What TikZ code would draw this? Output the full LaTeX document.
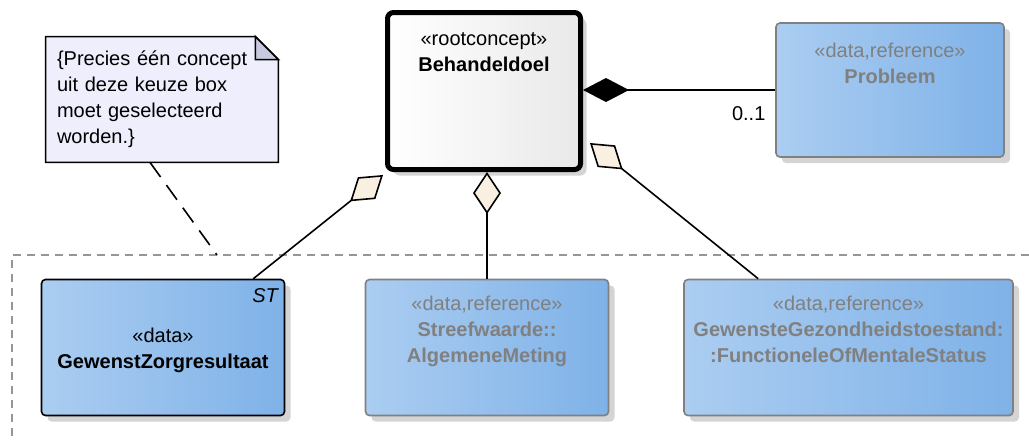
\documentclass[tikz,border=0pt]{standalone}
\usepackage{fontspec}
\setmainfont{Liberation Sans}
\usetikzlibrary{arrows.meta,shadows}

\definecolor{boxleft}{RGB}{171,205,241}
\definecolor{boxright}{RGB}{127,178,232}
\definecolor{rootright}{RGB}{233,233,233}
\definecolor{noteback}{RGB}{238,238,252}
\definecolor{notefold}{RGB}{200,200,222}
\definecolor{aggfill}{RGB}{250,240,225}
\definecolor{reftext}{RGB}{128,128,128}
\definecolor{pkggray}{RGB}{150,150,150}

\newcommand{\diafont}{\fontsize{10}{13}\selectfont}

\begin{document}
\begin{tikzpicture}[x=0.5pt, y=-0.5pt, font=\diafont,
    boxshadow/.style={drop shadow={shadow xshift=3pt, shadow yshift=-3pt, fill=black!17, opacity=1}},
    databox/.style={rectangle, rounded corners=2pt, line width=0.8pt,
        left color=boxleft, right color=boxright, boxshadow, inner sep=0pt},
    refbox/.style={databox, draw=reftext},
    localbox/.style={databox, draw=black},
    rootbox/.style={rectangle, rounded corners=3pt, draw=black, line width=2.5pt,
        left color=white, right color=rootright, boxshadow, inner sep=0pt},
    boxtext/.style={anchor=north, align=center, inner sep=0pt},
    reftxt/.style={boxtext, text=reftext},
    agg/.style={line width=0.8pt, -{Diamond[length=21pt, width=14pt, fill=aggfill]}},
    comp/.style={line width=0.8pt, -{Diamond[length=23pt, width=12pt]}},
    notelink/.style={line width=0.8pt, dash pattern=on 9pt off 5pt},
    pkgedge/.style={draw=pkggray, line width=0.8pt, dash pattern=on 4pt off 3pt}]
    \useasboundingbox (0,0) rectangle (1029,441);

    % package frame
    \coordinate (pkgcorner) at (12,255);
    \coordinate (notefoot) at (217,255);
    \draw[pkgedge] (1029,255) -- (pkgcorner) -- (12,441);

    % root concept
    \node[rootbox, minimum width=96.5pt, minimum height=78.5pt] (doel) at (484,91) {};
    \node[boxtext] (doeltxt) at ([yshift=-11pt]doel.north)
        {«rootconcept»\\\textbf{Behandeldoel}};

    \node[refbox, minimum width=114pt, minimum height=67pt] (prob) at (890,90) {};
    \node[reftxt] (probtxt) at ([yshift=-10pt]prob.north)
        {«data,reference»\\\textbf{Probleem}};

    % choice box
    \node[localbox, minimum width=121.5pt, minimum height=68pt] (gz) at (163,347.5) {};
    \node[boxtext] (gztxt) at ([yshift=-24.5pt]gz.north)
        {«data»\\\textbf{GewenstZorgresultaat}};
    \node[anchor=north east, inner sep=0pt, font=\diafont\itshape] (gzst)
        at ([xshift=-3.5pt, yshift=-4.5pt]gz.north east) {ST};

    \node[refbox, minimum width=121.5pt, minimum height=68pt] (streef) at (487,347.5) {};
    \node[reftxt] (streeftxt) at ([yshift=-8.5pt]streef.north)
        {«data,reference»\\\textbf{Streefwaarde::}\\\textbf{AlgemeneMeting}};

    \node[refbox, minimum width=164.5pt, minimum height=68pt] (gw) at (848.5,347.5) {};
    \node[reftxt] (gwtxt) at ([yshift=-8.5pt]gw.north)
        {«data,reference»\\\textbf{GewensteGezondheidstoestand:}\\\textbf{:FunctioneleOfMentaleStatus}};

    % note
    \node[minimum width=116pt, minimum height=62.5pt, inner sep=0pt] (note) at (162,99.5) {};
    \filldraw[fill=noteback, line width=0.8pt] (note.north west) -- ([xshift=-11.5pt]note.north east)
        -- ([yshift=-11.5pt]note.north east) -- (note.south east) -- (note.south west) -- cycle;
    \filldraw[fill=notefold, line width=0.8pt] ([xshift=-11.5pt]note.north east)
        -- ([xshift=-11.5pt, yshift=-11.5pt]note.north east) -- ([yshift=-11.5pt]note.north east) -- cycle;
    \node[text width=105pt, inner xsep=5.5pt, inner ysep=0pt, align=left] (notetxt) at (note.center)
        {\{Precies één concept\\uit deze keuze box\\moet geselecteerd\\worden.\}};
    \draw[notelink] ([xshift=-6pt]note.south) -- (notefoot);

    % associations
    \draw[comp] (prob.west)
        node[anchor=north east, inner sep=0pt, xshift=-4.5pt, yshift=-8pt] (mult) {0..1}
        -- (prob.west -| doel.east);
    \draw[agg] ([xshift=-16pt]gz.north east) -- ([xshift=-1pt, yshift=-1.5pt]doel.south west);
    \draw[agg] (streef.north) -- (streef.north |- doel.south);
    \draw[agg] ([xshift=37.5pt]gw.north west) -- ([xshift=3.5pt, yshift=14.5pt]doel.south east);
\end{tikzpicture}
\end{document}
